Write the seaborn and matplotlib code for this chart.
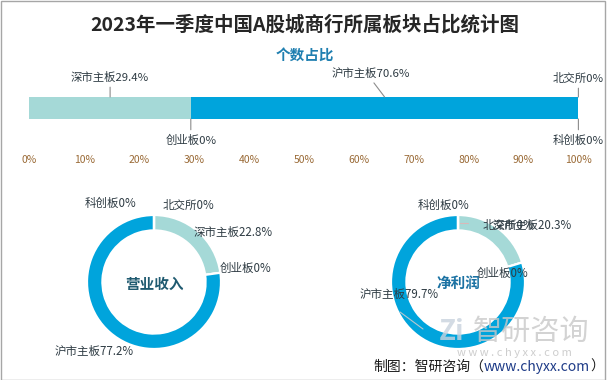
import matplotlib
matplotlib.use("Agg")
import matplotlib.pyplot as plt
import seaborn as sns
import numpy as np
from matplotlib.patches import Rectangle

# 数据
板块 = ["深市主板", "创业板", "沪市主板", "北交所", "科创板"]
个数占比 = [29.4, 0, 70.6, 0, 0]
营业收入占比 = [22.8, 0, 77.2, 0, 0]
净利润占比 = [20.3, 0, 79.7, 0, 0]
刻度 = [0, 10, 20, 30, 40, 50, 60, 70, 80, 90, 100]

颜色 = {"深市主板": "#A5D9D7", "沪市主板": "#00A4DC",
       "创业板": "#A5D9D7", "北交所": "#00A4DC", "科创板": "#00A4DC"}
文字色 = "#2E3B43"
线色 = "#8C8C8C"

sns.set_theme(style="white")
plt.rcParams['font.family'] = ['Noto Sans CJK SC', 'DejaVu Sans']

W, H = 610, 380
fig = plt.figure(figsize=(W / 100, H / 100), dpi=100)
fig.patch.set_facecolor("white")


def fx(px):
    return px / W


def fy(py):
    return 1 - py / H


# 标题
fig.text(fx(305), fy(25), "2023年一季度中国A股城商行所属板块占比统计图", ha="center", va="center",
         fontsize=14, fontweight="bold", color="#262626")
fig.text(fx(305), fy(55), "个数占比", ha="center", va="center", fontsize=10.5,
         fontweight="bold", color="#1F7FB0")

# 堆积条形图
ax = fig.add_axes([fx(29.4), fy(119), fx(549), 22 / H])
left = 0
mids = []
for name, v in zip(板块, 个数占比):
    ax.barh(0, v, left=left, height=1, color=颜色[name], edgecolor="none")
    mids.append(left + v / 2)
    left += v
ax.set_xlim(0, 100)
ax.set_ylim(-0.5, 0.5)
ax.set_yticks([])
ax.set_xticks(刻度)
ax.set_xticklabels([f"{t}%" for t in 刻度], fontsize=7.5, color="#9A6A36")
ax.tick_params(axis="x", length=0, pad=26)
for s in ax.spines.values():
    s.set_visible(False)

# 标签：(偏移x px, 偏移y px, 上/下)
标签偏移 = {"深市主板": (0, -20, 1), "沪市主板": (-14, -24, 1), "北交所": (0, -19, 1),
          "创业板": (0, 21, 0), "科创板": (0, 21, 0)}
k = 0.72
for name, v, m in zip(板块, 个数占比, mids):
    dx, dy, top = 标签偏移[name]
    yref = 0.5 if top else -0.5
    ax.annotate(f"{name}{v:g}%", xy=(m, yref), xytext=(dx * k, -dy * k), textcoords="offset points",
                ha="center", va="center", fontsize=8.2, color=文字色,
                arrowprops=dict(arrowstyle="-", color=线色, lw=0.8, shrinkA=1, shrinkB=0,
                                relpos=(0.5, 0) if top else (0.5, 1)),
                annotation_clip=False)

# 环形图
R = 67


def donut(cx, cy, values, title, title_color, label_pos, leaders):
    s = 2.5 * R
    a = fig.add_axes([fx(cx - s / 2), fy(cy + s / 2), fx(s), s / H])
    a.pie(values, colors=[颜色[n] for n in 板块], startangle=90, counterclock=False,
          wedgeprops=dict(width=0.23, edgecolor="white", linewidth=1.6))
    a.set_xlim(-1.25, 1.25)
    a.set_ylim(-1.25, 1.25)
    a.set_aspect("equal")
    a.text(0, -0.02, title, ha="center", va="center", fontsize=10.5, fontweight="bold",
           color=title_color)
    for name, v in zip(板块, values):
        px, py = label_pos[name]
        a.text((px - cx) / R, -(py - cy) / R, f"{name}{v:g}%", ha="center", va="center",
               fontsize=8.3, color=文字色)
    for (x0, y0, x1, y1, c) in leaders:
        a.plot([(x0 - cx) / R, (x1 - cx) / R], [-(y0 - cy) / R, -(y1 - cy) / R],
               color=c, lw=0.8, clip_on=False)


donut(154, 282, 营业收入占比, "营业收入", "#1F5A70",
      {"科创板": (111, 203), "北交所": (188, 205), "深市主板": (233, 232),
       "创业板": (246, 268), "沪市主板": (94, 351)}, [])
donut(458, 282, 净利润占比, "净利润", "#1B72A3",
      {"科创板": (444, 205), "北交所": (508, 225), "深市主板": (532, 225),
       "创业板": (503, 273), "沪市主板": (399, 294)},
      [(400, 312, 423, 329, "#B8C7CF"), (460, 223, 468, 223, "#D9B8B8")])

# 水印
fig.text(fx(452), fy(332), "Zi", ha="center", va="center", fontsize=20, fontweight="bold",
         color="#C9D3DE", alpha=0.8)
fig.text(fx(531), fy(332), "智研咨询", ha="center", va="center", fontsize=21,
         color="#C8C8C8", alpha=0.8)
fig.text(fx(514), fy(353), " ".join("www.chyxx.com"), ha="center", va="center", fontsize=8,
         color="#C8C8C8", alpha=0.9)

# 来源
fig.canvas.draw()
r = fig.canvas.get_renderer()
t1 = fig.text(fx(373), fy(367), "制图：智研咨询（", ha="left", va="center", fontsize=10, color="#1A1A1A")
x = t1.get_window_extent(r).x1
t2 = fig.text(x / W, fy(367), "www.chyxx.com", ha="left", va="center", fontsize=10, color="#1F3C88")
x = t2.get_window_extent(r).x1
fig.text(x / W, fy(367), "）", ha="left", va="center", fontsize=10, color="#1A1A1A")

# 边框
fig.patches.append(Rectangle((fx(0.5), fy(379.5)), fx(604), 379 / H, transform=fig.transFigure,
                             fill=False, edgecolor="#A6A6A6", lw=1))

fig.savefig("out.png", dpi=100)
